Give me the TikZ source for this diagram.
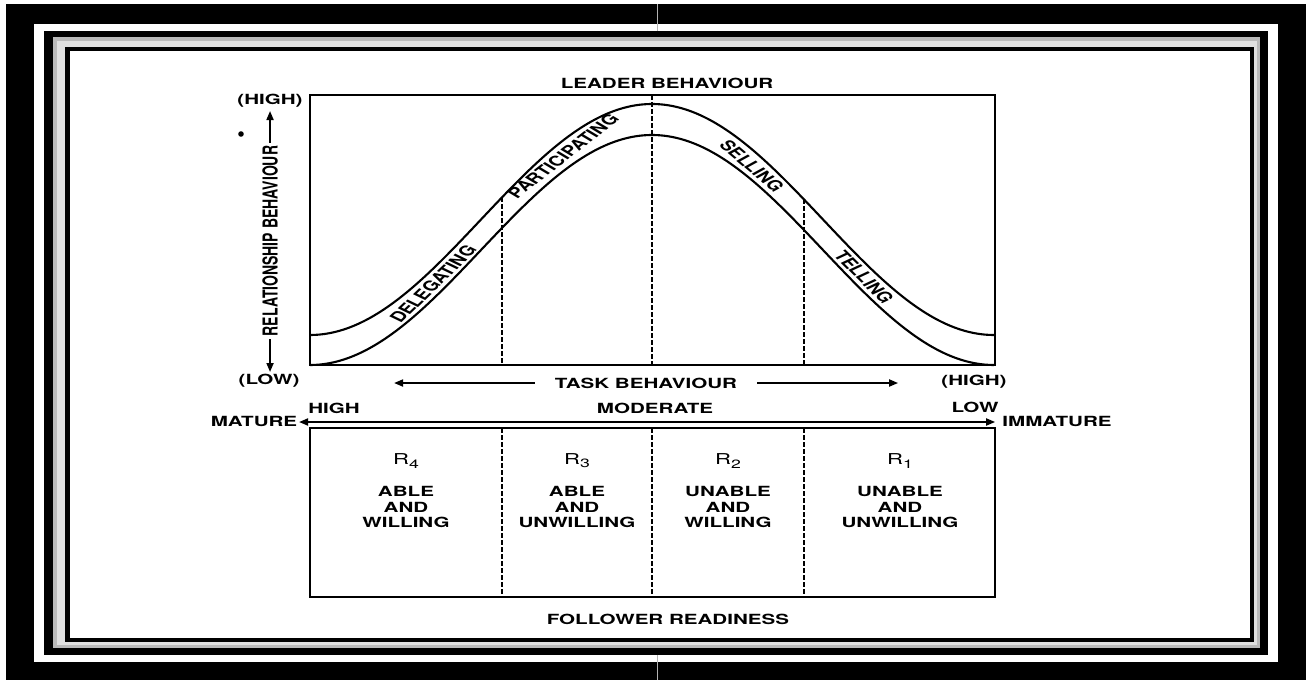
\documentclass[tikz,border=0pt]{standalone}
\usepackage{fontspec}
\setmainfont{TeX Gyre Heros}
\usetikzlibrary{arrows.meta}
\newcommand\Rlab[1]{R\raisebox{-0.4ex}{\fontsize{12}{12}\selectfont #1}}
\begin{document}
\begin{tikzpicture}[x=0.680272pt, y=-1pt, xscale=1.47, transform shape,
  lbl/.style={font=\fontsize{14}{15.5}\selectfont\bfseries, inner sep=0pt, align=center},
  rlbl/.style={font=\fontsize{15}{15.5}\selectfont, inner sep=0pt},
  boxline/.style={line width=2.4pt},
  curveline/.style={line width=2.1pt},
  dashline/.style={line width=2pt, dash pattern=on 5pt off 2pt},
  arr/.style={line width=1.8pt, -{Triangle[length=9pt,width=7pt]}},
  darr/.style={line width=1.8pt, {Triangle[length=9pt,width=7pt]}-{Triangle[length=9pt,width=7pt]}}]
\useasboundingbox (0,0) rectangle (1314,680);
% frame
\fill[white] (0,0) rectangle (1314,680);
\fill[black] (6,4) rectangle (1306,680);
\fill[white] (34,24) rectangle (1278,662);
\fill[black] (44,31) rectangle (1268,655);
\fill[gray!55] (53,37) rectangle (1260,648);
\fill[gray!25] (57,41) rectangle (1257,645);
\fill[black] (65,47) rectangle (1254,642);
\fill[white] (70,51) rectangle (1250,638);
\draw[gray!60, line width=0.8pt] (657,4) -- (657,31);
\draw[gray!60, line width=0.8pt] (657,655) -- (657,680);
% upper graph
\draw[boxline] (310,95) rectangle (995,365);
\draw[curveline] plot[domain=310:994, samples=140, smooth] (\x, {335-115.5*(1+cos((\x-652)/342*180))});
\draw[curveline] plot[domain=310:994, samples=140, smooth] (\x, {365-115*(1+cos((\x-652)/342*180))});
\coordinate (d1t) at (502,197.4);
\coordinate (d1b) at (502,365);
\coordinate (d2t) at (652,95);
\coordinate (d2b) at (652,365);
\coordinate (d3t) at (804,199.4);
\coordinate (d3b) at (804,365);
\draw[dashline] (d1t) -- (d1b);
\draw[dashline] (d2t) -- (d2b);
\draw[dashline] (d3t) -- (d3b);
\node[lbl] (dele) at (433,284) [rotate=54.6] {DELEGATING};
\node[lbl] (part) at (563,156) [rotate=48.7] {PARTICIPATING};
\node[lbl] (sell) at (752,166) [rotate=-51.1] {SELLING};
\node[lbl] (tell) at (864,277) [rotate=-55.4] {TELLING};
% labels around upper graph
\node[lbl] (leader) at (667,83) {LEADER BEHAVIOUR};
\node[lbl] (hiy) at (270,101) {(HIGH)};
\node[lbl] (loy) at (269,381) {(LOW)};
\fill (241,134) circle (2.8);
\node[lbl, rotate=90] (rel) at (270,241) {RELATIONSHIP BEHAVIOUR};
\coordinate (relup) at (270,111);
\coordinate (reldn) at (270,372);
\draw[arr] (rel.east) ++(0,-3) -- (relup);
\draw[arr] (rel.west) ++(0,3) -- (reldn);
\node[lbl] (task) at (646,383) {TASK BEHAVIOUR};
\coordinate (taskl) at (394,383);
\coordinate (taskr) at (898,383);
\draw[arr] (task.west) ++(-20,0) -- (taskl);
\draw[arr] (task.east) ++(20,0) -- (taskr);
\node[lbl] (hix) at (974,382) {(HIGH)};
% maturity line
\node[lbl] (high) at (334,408) {HIGH};
\node[lbl] (mod) at (655,408) {MODERATE};
\node[lbl] (low) at (975,407) {LOW};
\node[lbl] (mat) at (254,421) {MATURE};
\node[lbl] (imm) at (1057,421) {IMMATURE};
\coordinate (ml) at (299,422);
\coordinate (mr) at (995,422);
\draw[darr] (ml) -- (mr);
% lower box
\draw[boxline] (310,428) rectangle (995,597);
\coordinate (e1t) at (502,428);
\coordinate (e1b) at (502,597);
\coordinate (e2t) at (652,428);
\coordinate (e2b) at (652,597);
\coordinate (e3t) at (804,428);
\coordinate (e3b) at (804,597);
\draw[dashline] (e1t) -- (e1b);
\draw[dashline] (e2t) -- (e2b);
\draw[dashline] (e3t) -- (e3b);
\node[rlbl] (r4) at (406,461) {\Rlab{4}};
\node[rlbl] (r3) at (577,461) {\Rlab{3}};
\node[rlbl] (r2) at (728,461) {\Rlab{2}};
\node[rlbl] (r1) at (900,461) {\Rlab{1}};
\node[lbl] (c4) at (406,507) {ABLE\\AND\\WILLING};
\node[lbl] (c3) at (577,507) {ABLE\\AND\\UNWILLING};
\node[lbl] (c2) at (728,507) {UNABLE\\AND\\WILLING};
\node[lbl] (c1) at (900,507) {UNABLE\\AND\\UNWILLING};
\node[lbl] (foll) at (668,619) {FOLLOWER READINESS};
\end{tikzpicture}
\end{document}
